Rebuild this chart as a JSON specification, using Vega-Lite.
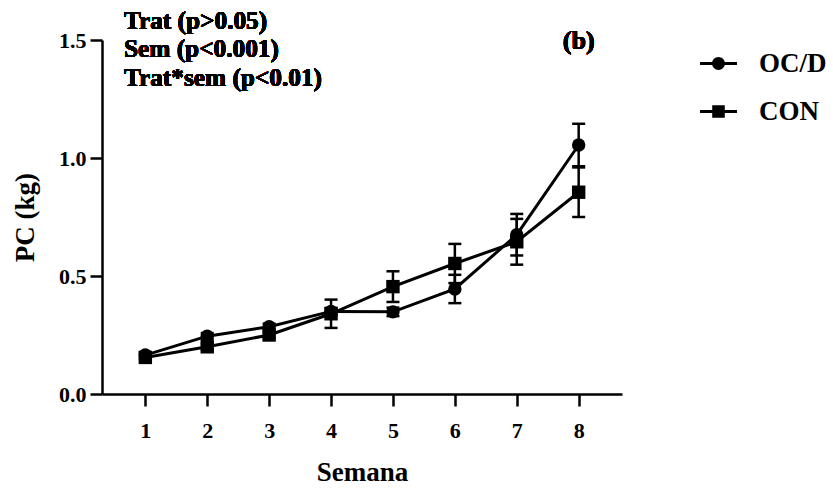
{
  "$schema": "https://vega.github.io/schema/vega-lite/v6.json",
  "width": 520,
  "height": 354,
  "autosize": "none",
  "padding": {"left": 102, "top": 40, "right": 211, "bottom": 97},
  "background": "white",
  "config": {
    "view": {"stroke": null},
    "font": "Liberation Serif",
    "axis": {
      "grid": false,
      "domainColor": "black",
      "domainWidth": 2.5,
      "tickColor": "black",
      "tickWidth": 2.5,
      "tickSize": 12,
      "labelFont": "Liberation Serif",
      "labelFontWeight": "bold",
      "labelFontSize": 22,
      "labelColor": "black",
      "titleFont": "Liberation Serif",
      "titleFontWeight": "bold",
      "titleFontSize": 27,
      "titleColor": "black"
    }
  },
  "data": {
    "values": [
      {"week": 1, "group": "OC/D", "mean": 0.165, "lo": 0.155, "hi": 0.175},
      {"week": 2, "group": "OC/D", "mean": 0.245, "lo": 0.232, "hi": 0.258},
      {"week": 3, "group": "OC/D", "mean": 0.285, "lo": 0.272, "hi": 0.298},
      {"week": 4, "group": "OC/D", "mean": 0.35, "lo": 0.335, "hi": 0.365},
      {"week": 5, "group": "OC/D", "mean": 0.348, "lo": 0.33, "hi": 0.366},
      {"week": 6, "group": "OC/D", "mean": 0.445, "lo": 0.385, "hi": 0.505},
      {"week": 7, "group": "OC/D", "mean": 0.675, "lo": 0.587, "hi": 0.763},
      {"week": 8, "group": "OC/D", "mean": 1.055, "lo": 0.965, "hi": 1.145},
      {"week": 1, "group": "CON", "mean": 0.155, "lo": 0.145, "hi": 0.165},
      {"week": 2, "group": "CON", "mean": 0.2, "lo": 0.188, "hi": 0.212},
      {"week": 3, "group": "CON", "mean": 0.25, "lo": 0.238, "hi": 0.262},
      {"week": 4, "group": "CON", "mean": 0.34, "lo": 0.28, "hi": 0.4},
      {"week": 5, "group": "CON", "mean": 0.455, "lo": 0.39, "hi": 0.52},
      {"week": 6, "group": "CON", "mean": 0.553, "lo": 0.47, "hi": 0.636},
      {"week": 7, "group": "CON", "mean": 0.645, "lo": 0.548, "hi": 0.742},
      {"week": 8, "group": "CON", "mean": 0.855, "lo": 0.75, "hi": 0.96}
    ]
  },
  "encoding": {
    "x": {
      "field": "week", "type": "quantitative",
      "scale": {"domain": [0.3, 8.7], "nice": false, "zero": false},
      "axis": {"values": [1, 2, 3, 4, 5, 6, 7, 8], "format": "d", "title": "Semana", "labelPadding": 14, "titlePadding": 18}
    },
    "y": {
      "field": "mean", "type": "quantitative",
      "scale": {"domain": [0, 1.5], "nice": false},
      "axis": {"values": [0, 0.5, 1, 1.5], "format": ".1f", "title": "PC (kg)", "labelPadding": 4, "titlePadding": 19}
    }
  },
  "resolve": {"scale": {"shape": "independent"}},
  "layer": [
    {
      "mark": {"type": "rule", "color": "black", "strokeWidth": 2.5},
      "encoding": {"y": {"field": "lo", "type": "quantitative"}, "y2": {"field": "hi"}}
    },
    {
      "mark": {"type": "tick", "orient": "horizontal", "color": "black", "size": 13, "thickness": 2.5, "opacity": 1},
      "encoding": {"y": {"field": "lo", "type": "quantitative"}}
    },
    {
      "mark": {"type": "tick", "orient": "horizontal", "color": "black", "size": 13, "thickness": 2.5, "opacity": 1},
      "encoding": {"y": {"field": "hi", "type": "quantitative"}}
    },
    {
      "mark": {"type": "line", "color": "black", "strokeWidth": 3},
      "encoding": {"detail": {"field": "group"}}
    },
    {
      "mark": {"type": "point", "filled": true, "color": "black", "opacity": 1, "size": 180},
      "encoding": {
        "shape": {
          "field": "group", "type": "nominal",
          "scale": {"domain": ["OC/D", "CON"], "range": ["circle", "square"]},
          "legend": null
        }
      }
    },
    {
      "mark": {"type": "point", "filled": true, "color": "black", "opacity": 1, "size": 0},
      "encoding": {
        "shape": {
          "field": "group", "type": "nominal",
          "scale": {"domain": ["OC/D", "CON"], "range": ["M-1,-0.08H1V0.08H-1Z M-0.35,0A0.35,0.35 0 1,1 0.35,0A0.35,0.35 0 1,1 -0.35,0Z", "M-1,-0.08H1V0.08H-1Z M-0.34,-0.34H0.34V0.34H-0.34Z"]},
          "legend": {
            "title": null,
            "orient": "none",
            "legendX": 598,
            "legendY": 5,
            "padding": 0,
            "symbolSize": 1369,
            "symbolStrokeWidth": 0,
            "symbolFillColor": "black",
            "symbolOpacity": 1,
            "labelFont": "Liberation Serif",
            "labelFontWeight": "bold",
            "labelFontSize": 27,
            "labelColor": "black",
            "labelOffset": 22,
            "rowPadding": 16
          }
        }
      }
    },
    {
      "mark": {"type": "text", "align": "left", "baseline": "top", "font": "Liberation Serif", "fontWeight": "bold", "fontSize": 25.3, "lineHeight": 28.5, "color": "black"},
      "encoding": {
        "x": {"datum": 0.655},
        "y": {"datum": 1.633},
        "text": {"value": ["Trat (p>0.05)", "Sem (p<0.001)", "Trat*sem (p<0.01)"]}
      }
    },
    {
      "mark": {"type": "text", "align": "center", "baseline": "middle", "font": "Liberation Serif", "fontWeight": "bold", "fontSize": 26, "color": "black"},
      "encoding": {
        "x": {"datum": 8},
        "y": {"datum": 1.496},
        "text": {"value": "(b)"}
      }
    }
  ]
}
